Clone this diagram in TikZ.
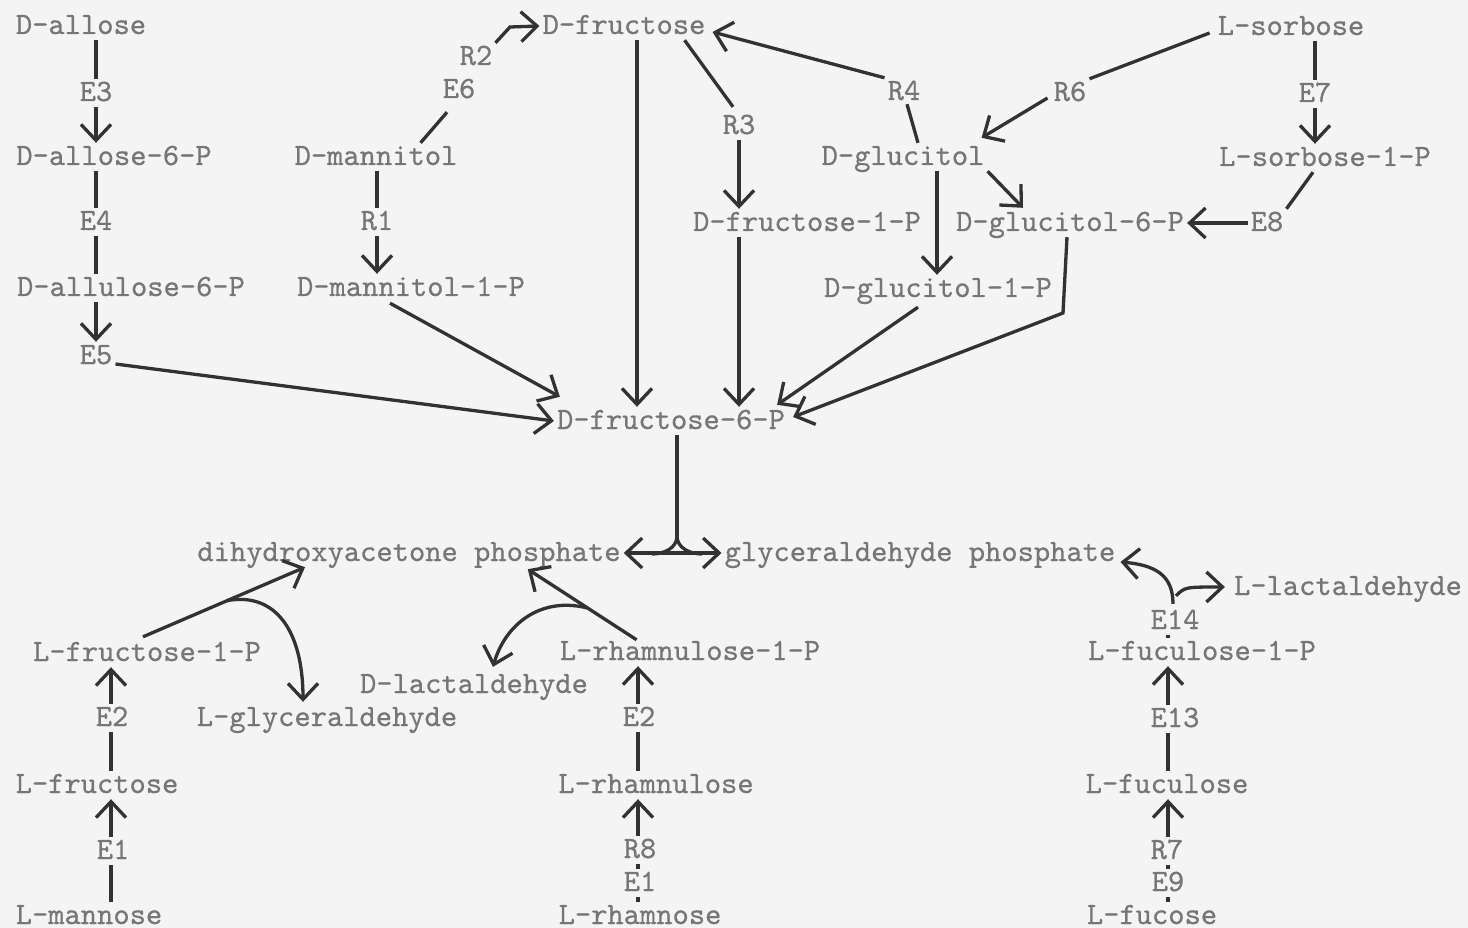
\documentclass[tikz,border=0pt]{standalone}
\usepackage{fontspec}
\newfontfamily\typew{lmmono10-regular.otf}[FakeBold=0.6]
\usetikzlibrary{arrows.meta,calc}
\definecolor{bgc}{RGB}{244,244,244}
\definecolor{txc}{RGB}{118,118,118}
\definecolor{lnc}{RGB}{50,50,50}
\tikzset{
 lbl/.style={font=\typew\fontsize{31}{34}\selectfont, text=txc, inner xsep=3pt, inner ysep=3pt, text height=19pt, text depth=3pt},
 ln/.style={draw=lnc, line width=3.3pt},
 arr/.style={ln, -{Straight Barb[length=16pt,width=30pt]}},
 dblarr/.style={ln, {Straight Barb[length=16pt,width=30pt]}-{Straight Barb[length=16pt,width=30pt]}},
}
\begin{document}
\begin{tikzpicture}[x=1pt,y=-1pt]
\fill[bgc] (0,0) rectangle (1468,928);
\useasboundingbox (0,0) rectangle (1468,928);

% ---------- nodes ----------
\node[lbl] (dallose) at (81,26) {D-allose};
\node[lbl] (e3) at (96,93) {E3};
\node[lbl] (dallose6p) at (114,157) {D-allose-6-P};
\node[lbl] (e4) at (96,222) {E4};
\node[lbl] (dallulose) at (131,288) {D-allulose-6-P};
\node[lbl] (e5) at (96,356) {E5};
\node[lbl] (mannitol) at (376,157) {D-mannitol};
\node[lbl] (r1) at (377,222) {R1};
\node[lbl] (mannitol1p) at (411,288) {D-mannitol-1-P};
\node[lbl] (e6) at (459,90) {E6};
\node[lbl] (r2) at (476,57) {R2};
\node[lbl] (dfru) at (624,26) {D-fructose};
\node[lbl] (r3) at (739,126) {R3};
\node[lbl] (dfru1p) at (807,223) {D-fructose-1-P};
\node[lbl] (r4) at (904,92) {R4};
\node[lbl] (dglc) at (903,157) {D-glucitol};
\node[lbl] (dglc6p) at (1070,223) {D-glucitol-6-P};
\node[lbl] (dglc1p) at (938,289) {D-glucitol-1-P};
\node[lbl] (r6) at (1070,93) {R6};
\node[lbl] (lsor) at (1291,27) {L-sorbose};
\node[lbl] (e7) at (1315,94) {E7};
\node[lbl] (lsor1p) at (1325,158) {L-sorbose-1-P};
\node[lbl] (e8) at (1267,223) {E8};
\node[lbl] (fru6p) at (671,421) {D-fructose-6-P};
\node[lbl] (dhap) at (409,553) {dihydroxyacetone phosphate};
\node[lbl] (gap) at (920,553) {glyceraldehyde phosphate};
\node[lbl] (llact) at (1348,587) {L-lactaldehyde};
\node[lbl] (e14) at (1175,621) {E14};
\node[lbl] (lfuc1p) at (1202,652) {L-fuculose-1-P};
\node[lbl] (e13) at (1175,719) {E13};
\node[lbl] (lfucu) at (1167,785) {L-fuculose};
\node[lbl] (r7) at (1167,851) {R7};
\node[lbl] (e9) at (1168,883) {E9};
\node[lbl] (lfucose) at (1152,916) {L-fucose};
\node[lbl] (lfru1p) at (147,653) {L-fructose-1-P};
\node[lbl] (e2a) at (112,718) {E2};
\node[lbl] (lfru) at (97,785) {L-fructose};
\node[lbl] (e1a) at (113,851) {E1};
\node[lbl] (lman) at (89,916) {L-mannose};
\node[lbl] (lgly) at (327,718) {L-glyceraldehyde};
\node[lbl] (dlact) at (474,685) {D-lactaldehyde};
\node[lbl] (lrha1p) at (690,652) {L-rhamnulose-1-P};
\node[lbl] (e2b) at (639,718) {E2};
\node[lbl] (lrhau) at (656,785) {L-rhamnulose};
\node[lbl] (r8) at (640,850) {R8};
\node[lbl] (e1b) at (640,883) {E1};
\node[lbl] (lrha) at (640,916) {L-rhamnose};

% helper coordinates
\coordinate (lx) at (111,0);
\coordinate (mx) at (638,0);
\coordinate (fx) at (1168,0);
\coordinate (r2bend) at (510,27);
\coordinate (g6bend) at (1063,313);
\coordinate (split) at (677,536);
\coordinate (splitL) at (652,554);
\coordinate (splitR) at (702,554);

% ---------- left column ----------
\draw[ln] (e3 |- dallose.south) -- (e3.north);
\draw[arr] (e3.south) -- (e3 |- dallose6p.north);
\draw[ln] (e4 |- dallose6p.south) -- (e4.north);
\draw[ln] (e4.south) -- (e4 |- dallulose.north);
\draw[arr] (e5 |- dallulose.south) -- (e5.north);
\draw[arr] ($(e5.east)+(0,8)$) -- (fru6p.west);

% ---------- mannitol ----------
\draw[ln] (r1 |- mannitol.south) -- (r1.north);
\draw[arr] (r1.south) -- (r1 |- mannitol1p.north);
\draw[ln] ($(mannitol.north east)+(-40,0)$) -- ($(e6.south)+(-12,8)$);
\draw[arr] (r2.north east) -- (r2bend) -- (dfru.west);
\draw[arr] ($(mannitol1p.south)+(-21,1)$) -- ($(fru6p.north west)+(6,-10)$);

% ---------- fructose ----------
\draw[arr] ($(dfru.south)+(13,0)$) -- ($(fru6p.north)+(-34,0)$);
\draw[ln] ($(dfru.south east)+(-24,0)$) -- ($(r3.north)+(-6,-5)$);
\draw[arr] (r3.south) -- (r3 |- dfru1p.north);
\draw[arr] (dfru1p.south -| r3) -- (fru6p.north -| r3);
\draw[arr] (r4.north west) -- ($(dfru.east)+(4,6)$);

% ---------- glucitol / sorbose ----------
\draw[ln] ($(dglc.north)+(15,0)$) -- ($(r4.south)+(3,-2)$);
\draw[ln] ($(lsor.west)+(-5,6)$) -- (r6.north east);
\draw[arr] ($(r6.west)+(-3,5)$) -- ($(dglc.north east)+(-6,-5)$);
\draw[arr] (dglc.south east) -- ($(dglc6p.north)+(-47,-1)$);
\draw[arr] ($(dglc.south)+(34,0)$) -- ($(dglc1p.north)+(-1,0)$);
\draw[ln] (e7 |- lsor.south) -- (e7.north);
\draw[arr] (e7.south) -- (e7 |- lsor1p.north);
\draw[ln] ($(lsor1p.south)+(-12,0)$) -- (e8.north east);
\draw[arr] (e8.west) -- (dglc6p.east);
\draw[arr] ($(dglc6p.south)+(-3,0)$) -- (g6bend) -- ($(fru6p.east)+(5,-4)$);
\draw[arr] ($(dglc1p.south)+(-20,4)$) -- ($(fru6p.north east)+(-11,-2)$);

% ---------- split of fructose-6-P ----------
\draw[ln] (fru6p.south -| split) -- (split);
\draw[ln] (split) to[out=-90,in=0] (splitL);
\draw[ln] (split) to[out=-90,in=180] (splitR);
\draw[dblarr] (dhap.east) -- (gap.west);

% ---------- lower left ----------
\draw[arr] (e2a.north -| lx) -- (lfru1p.south -| lx);
\draw[ln] (lfru.north -| lx) -- (e2a.south -| lx);
\draw[arr] (e1a.north -| lx) -- (lfru.south -| lx);
\draw[ln] (lman.north -| lx) -- (e1a.south -| lx);
\coordinate (lfa) at ($(lfru1p.north)+(-4,-2)$);
\coordinate (lfb) at ($(dhap.south)+(-104,0)$);
\draw[arr] (lfa) -- (lfb);
\coordinate (lfm) at ($(lfa)!0.52!(lfb)$);
\draw[arr] (lfm) .. controls (275,592) and (303,630) .. ($(lgly.north)+(-24,-2)$);

% ---------- lower middle ----------
\draw[arr] (e2b.north -| mx) -- (lrha1p.south -| mx);
\draw[ln] (lrhau.north -| mx) -- (e2b.south -| mx);
\draw[arr] (r8.north -| mx) -- (lrhau.south -| mx);
\draw[ln] (e1b.north -| mx) -- (r8.south -| mx);
\draw[ln] (lrha.north -| mx) -- (e1b.south -| mx);
\coordinate (rha) at ($(lrha1p.north west)+(80,2)$);
\coordinate (rhb) at ($(dhap.south east)+(-96,2)$);
\draw[arr] (rha) -- (rhb);
\coordinate (rhm) at ($(rha)!0.45!(rhb)$);
\draw[arr] (rhm) .. controls (540,596) and (505,625) .. ($(dlact.north)+(19,-4)$);

% ---------- lower right ----------
\draw[arr] (e13.north -| fx) -- (lfuc1p.south -| fx);
\draw[ln] (lfucu.north -| fx) -- (e13.south -| fx);
\draw[arr] (r7.north -| fx) -- (lfucu.south -| fx);
\draw[ln] (e9.north -| fx) -- (r7.south -| fx);
\draw[ln] (lfucose.north -| fx) -- (e9.south -| fx);
\draw[ln] (e14.south -| fx) -- (lfuc1p.north -| fx);
\draw[arr] ($(e14.north)+(-2,-3)$) .. controls (1173,575) and (1155,565) .. ($(gap.east)+(2,9)$);
\draw[arr] ($(e14.north)+(1,-11)$) .. controls (1185,587) .. ($(llact.west)+(-6,0)$);
\end{tikzpicture}
\end{document}
